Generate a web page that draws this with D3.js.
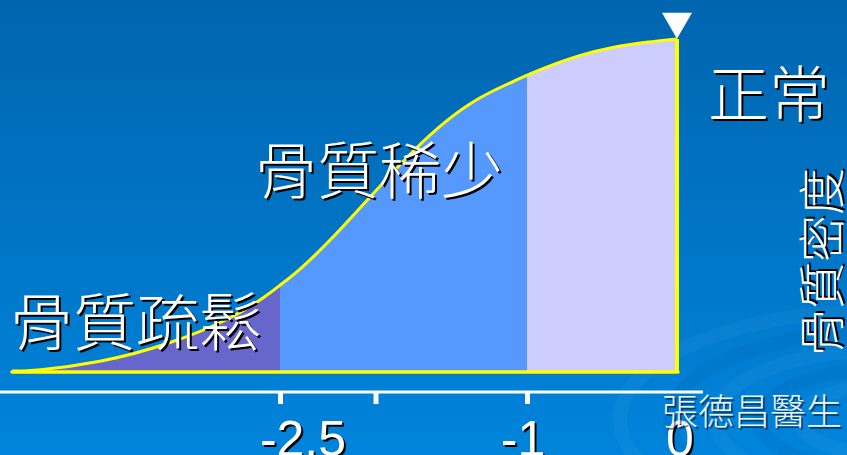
<!DOCTYPE html>
<html lang="zh-Hant">
<head>
<meta charset="UTF-8">
<title>骨質密度</title>
<script src="https://d3js.org/d3.v7.min.js"></script>
<style>
  body { margin: 0; background: #0070be; }
  svg { display: block; }
</style>
</head>
<body>
<script>
// T-score along the curve and the relative height of the curve (0..100)
var tScores = [-4.0, -3.88, -3.51, -3.13, -2.76, -2.57, -2.5, -2.38, -2.18, -1.97,
               -1.69, -1.49, -1.29, -1.09, -1.0, -0.87, -0.65, -0.43, -0.2, 0];
var density = [0.3, 0.3, 2.7, 8.1, 16.2, 23.1, 26.1, 30.6, 40.2, 51.7,
               66.7, 75.7, 82.6, 87.1, 89.2, 91.6, 95.2, 97.6, 99.1, 100];

// zones: 骨質疏鬆 / 骨質稀少 / 正常
var zoneNames = ['骨質疏鬆', '骨質稀少', '正常'];
var zoneEdges = [-4, -2.5, -1, 0];
var zoneColors = ['#6666cc', '#5599ff', '#ccccff'];

var tickValues = [-2.5, -1.92, -1];
var tickLabels = ['-2.5', '-1', '0'];
var tickLabelValues = [-2.5, -1, 0];

var width = 847, height = 455;

var x = d3.scaleLinear()
          .domain([-4, -2.5, -1, 0])
          .range([12, 280, 527, 677]);
var y = d3.scaleLinear()
          .domain([0, 100])
          .range([372, 39]);

var points = tScores.map(function(t, i) { return [t, density[i]]; });

var svg = d3.select('body')
            .append('svg')
            .attr('width', width)
            .attr('height', height);

var defs = svg.append('defs');
var grad = defs.append('linearGradient')
               .attr('id', 'bg')
               .attr('x1', 0).attr('y1', 0).attr('x2', 0).attr('y2', 1);
grad.append('stop').attr('offset', '0%').attr('stop-color', '#0065af');
grad.append('stop').attr('offset', '100%').attr('stop-color', '#0084db');

svg.append('rect')
   .attr('width', width)
   .attr('height', height)
   .attr('fill', 'url(#bg)');

// faint swirl in the lower right corner
var swirl = svg.append('g').attr('transform', 'translate(880, 420)');
[260, 210, 165, 120, 80].forEach(function(r, i) {
  swirl.append('ellipse')
       .attr('rx', r)
       .attr('ry', r * 0.42)
       .attr('fill', 'none')
       .attr('stroke', i % 2 ? 'rgba(0,40,110,0.07)' : 'rgba(255,255,255,0.035)')
       .attr('stroke-width', 14);
});

// zone fills, clipped from the same area
var area = d3.area()
             .x(function(d) { return x(d[0]); })
             .y0(y(0))
             .y1(function(d) { return y(d[1]); })
             .curve(d3.curveBasis);

zoneNames.forEach(function(name, i) {
  defs.append('clipPath')
      .attr('id', 'zone' + i)
      .append('rect')
      .attr('x', x(zoneEdges[i]))
      .attr('y', 0)
      .attr('width', x(zoneEdges[i + 1]) - x(zoneEdges[i]))
      .attr('height', height);
  svg.append('path')
     .datum(points)
     .attr('d', area)
     .attr('fill', zoneColors[i])
     .attr('clip-path', 'url(#zone' + i + ')');
});

// yellow outline: curve, right edge, baseline
var line = d3.line()
             .x(function(d) { return x(d[0]); })
             .y(function(d) { return y(d[1]); })
             .curve(d3.curveBasis);

svg.append('path')
   .datum(points)
   .attr('d', line)
   .attr('fill', 'none')
   .attr('stroke', '#ffff00')
   .attr('stroke-width', 3);

svg.append('line')
   .attr('x1', x(0)).attr('x2', x(0))
   .attr('y1', y(100)).attr('y2', y(0))
   .attr('stroke', '#ffff00')
   .attr('stroke-width', 4);

svg.append('line')
   .attr('x1', x(-4)).attr('x2', x(0) + 1)
   .attr('y1', y(0)).attr('y2', y(0))
   .attr('stroke', '#ffff00')
   .attr('stroke-width', 3.5)
   .attr('stroke-linecap', 'round');

// marker at the peak
svg.append('path')
   .attr('d', d3.symbol().type(d3.symbolTriangle).size(390))
   .attr('fill', '#ffffff')
   .attr('transform', 'translate(' + x(0) + ',' + (y(100) - 17.5) + ') rotate(180)');

// x axis
var axisY = 392;
svg.append('line')
   .attr('x1', 0).attr('x2', 703)
   .attr('y1', axisY).attr('y2', axisY)
   .attr('stroke', '#ffffff')
   .attr('stroke-width', 3);

var axis = svg.append('g')
              .attr('transform', 'translate(0,' + axisY + ')')
              .call(d3.axisBottom(x)
                      .tickValues(tickValues)
                      .tickSize(12)
                      .tickFormat(''));
axis.select('.domain').remove();
axis.selectAll('.tick line')
    .attr('stroke', '#ffffff')
    .attr('stroke-width', 5);

// text with a black drop shadow
function shadowText(g, txt, opts) {
  var grp = g.append('g').attr('transform', opts.transform || null);
  [['#000000', 2], [opts.fill || '#ffffff', 0]].forEach(function(p) {
    grp.append('text')
       .attr('x', opts.x + p[1])
       .attr('y', opts.y + p[1])
       .attr('text-anchor', opts.anchor || 'start')
       .attr('font-family', opts.family)
       .attr('font-size', opts.size)
       .attr('font-weight', opts.weight || 'normal')
       .attr('fill', p[0])
       .attr('fill-opacity', p[1] ? (opts.shadowOpacity || 1) : 1)
       .text(txt);
  });
}

var sansDigits = "'Liberation Sans', Arial, sans-serif";
var cjk = "'Noto Sans CJK TC', 'Noto Sans CJK SC', sans-serif";

var labelDx = { '-2.5': 23, '-1': -4, '0': 3 };
tickLabels.forEach(function(lbl, i) {
  shadowText(svg, lbl, {
    x: x(tickLabelValues[i]) + labelDx[lbl], y: 456,
    anchor: 'middle', family: sansDigits, size: 50
  });
});

shadowText(svg, '張德昌醫生', {
  x: 662, y: 425, family: cjk, size: 36, weight: 300,
  fill: '#eef4ff', shadowOpacity: 0.5
});

// zone names
var zoneText = [
  { x: 10, y: 345, size: 63 },
  { x: 255, y: 194, size: 62 },
  { x: 708, y: 117, size: 61 }
];
zoneNames.forEach(function(name, i) {
  shadowText(svg, name, {
    x: zoneText[i].x, y: zoneText[i].y, family: cjk,
    size: zoneText[i].size, weight: 300
  });
});

// vertical title
shadowText(svg, '骨質密度', {
  x: 0, y: 0, anchor: 'middle', family: cjk, size: 47, weight: 300,
  transform: 'translate(839,262) rotate(-90)'
});
</script>
</body>
</html>
